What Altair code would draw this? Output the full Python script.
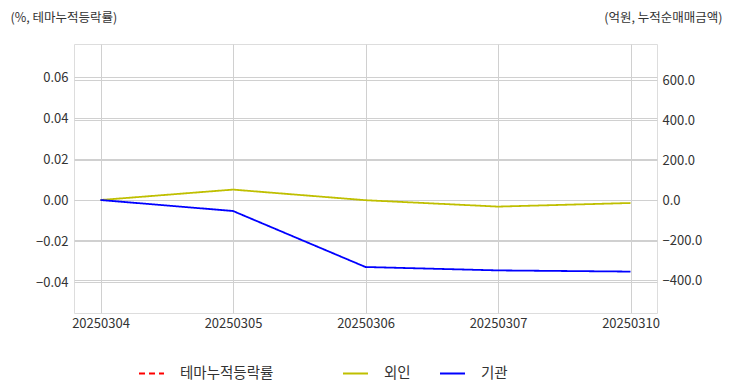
import altair as alt
import pandas as pd

dates = ["20250304", "20250305", "20250306", "20250307", "20250310"]
theme_pct = [None, None, None, None, None]
foreign = [0, 52, -1, -33, -15]
institution = [0, -55, -335, -352, -358]

series_names = ["테마누적등락률", "외인", "기관"]
series_colors = ["#ff0000", "#bfbf00", "#0000ff"]
series_dashes = [[6, 4], [1, 0], [1, 0]]

left_ticks = [-0.04, -0.02, 0.0, 0.02, 0.04, 0.06]
right_ticks = [-400, -200, 0, 200, 400, 600]

FONT = "Noto Sans CJK KR"

df_left = pd.DataFrame({"date": dates, "series": series_names[0], "value": theme_pct})
df_right = pd.concat([
    pd.DataFrame({"date": dates, "series": "외인", "value": foreign}),
    pd.DataFrame({"date": dates, "series": "기관", "value": institution}),
])

legend = alt.Legend(
    title=None, orient="none", legendX=64, legendY=316, direction="horizontal",
    symbolType="stroke", symbolSize=625, symbolStrokeWidth=2, labelFontSize=14.5,
    labelFont=FONT, labelColor="#333333", columnPadding=25, labelOffset=15,
    labelExpr="datum.label == '테마누적등락률' ? datum.label + '\u3000\u3000\u2800' : datum.label",
)

x_enc = alt.X(
    "date:N", sort=dates,
    scale=alt.Scale(type="point", padding=0.2),
    axis=alt.Axis(title=None, labelAngle=0, grid=True, gridColor="#d0d0d0", ticks=False,
                  labelPadding=4, labelFontSize=13, labelFont=FONT, labelColor="#333333",
                  domain=False),
)
color_enc = alt.Color("series:N", scale=alt.Scale(domain=series_names, range=series_colors), legend=legend)
dash_enc = alt.StrokeDash("series:N", scale=alt.Scale(domain=series_names, range=series_dashes), legend=legend)

left = alt.Chart(df_left).mark_line(strokeWidth=1.8).encode(
    x=x_enc,
    y=alt.Y("value:Q",
            scale=alt.Scale(domain=[-0.0551, 0.0761], nice=False, zero=False),
            axis=alt.Axis(values=left_ticks, format=".2f", grid=True, gridColor="#d0d0d0",
                          ticks=False, domain=False, labelPadding=6, labelFontSize=13,
                          labelFont=FONT, labelColor="#333333",
                          title="(%, 테마누적등락률)", titleAngle=0, titleX=-64, titleY=-27,
                          titleAlign="left", titleBaseline="middle", titleFont=FONT,
                          titleFontSize=12.5, titleFontWeight="normal", titleColor="#333333")),
    color=color_enc,
    strokeDash=dash_enc,
)

right = alt.Chart(df_right).mark_line(strokeWidth=1.8).encode(
    x=x_enc,
    y=alt.Y("value:Q",
            scale=alt.Scale(domain=[-565, 780], nice=False, zero=False),
            axis=alt.Axis(orient="right", values=right_ticks, format=".1f", grid=True,
                          gridColor="#d0d0d0", ticks=False, domain=False, labelPadding=5,
                          labelFontSize=13, labelFont=FONT, labelColor="#333333",
                          title="(억원, 누적순매매금액)", titleAngle=0, titleX=65, titleY=-27,
                          titleAlign="right", titleBaseline="middle", titleFont=FONT,
                          titleFontSize=12.5, titleFontWeight="normal", titleColor="#333333")),
    color=color_enc,
    strokeDash=dash_enc,
)

chart = alt.layer(left, right).resolve_scale(y="independent").properties(
    width=583, height=269,
    autosize=alt.AutoSizeParams(type="none"),
    padding={"left": 66, "top": 36, "right": 67, "bottom": 76},
).configure_view(stroke="#c8c8c8", strokeWidth=1.6).configure(background="white")

chart.save("out.html", embed_options={"renderer": "svg", "actions": False})
